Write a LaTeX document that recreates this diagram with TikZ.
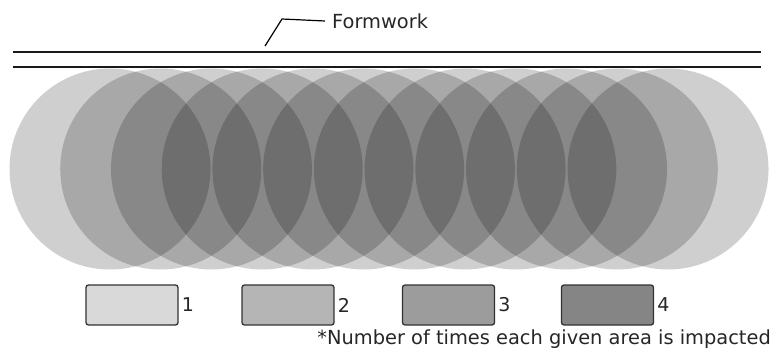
\documentclass[tikz,border=0pt]{standalone}
\usepackage{fontspec}
\setmainfont{DejaVu Sans}
\usetikzlibrary{positioning}

\tikzset{
	impact/.style={fill=black, fill opacity=0.19},
	wall/.style={line width=2pt, black!90},
	keybox/.style={draw=black!80, line width=1.3pt, rounded corners=2.5pt, minimum width=92pt, minimum height=40pt, inner sep=0pt},
	keylabel/.style={font=\fontsize{19}{22}\selectfont, inner sep=0pt, text=black!85},
}

\begin{document}
\begin{tikzpicture}[x=1pt, y=-1pt, font=\fontsize{19.4}{23}\selectfont]
	\useasboundingbox (0,0) rectangle (779,351);
%		\draw [help lines, step=50] (0,0) grid (779,351);
		% overlapping impact zones
		\foreach \i in {0,...,11}
			\fill [impact] (110+\i*50.73,169) circle (100.5pt);
		% formwork faces
		\draw [wall] (13,52) -- (761,52);
		\draw [wall] (13,67) -- (761,67);
		\node (formwork) [anchor=west, inner sep=0pt, text=black!85] at (332,21) {Formwork};
		\coordinate (tip) at (265,46);
		\draw [line width=1.2pt] (tip) -- (282,19) -- ([xshift=-7pt]formwork.west);
		% key
		\node (box1) [keybox, fill=black!15] at (132,305) {};
		\node (box2) [keybox, fill=black!29] at (288,305) {};
		\node (box3) [keybox, fill=black!39] at (448.5,305) {};
		\node (box4) [keybox, fill=black!48] at (607.5,305) {};
		\node (lab1) [keylabel, right=3pt of box1] {1};
		\node (lab2) [keylabel, right=3pt of box2] {2};
		\node (lab3) [keylabel, right=3pt of box3] {3};
		\node (lab4) [keylabel, right=3pt of box4] {4};
		\node (note) [anchor=base east, inner sep=0pt, text=black!85] at (771,344) {*Number of times each given area is impacted};
\end{tikzpicture}
\end{document}
